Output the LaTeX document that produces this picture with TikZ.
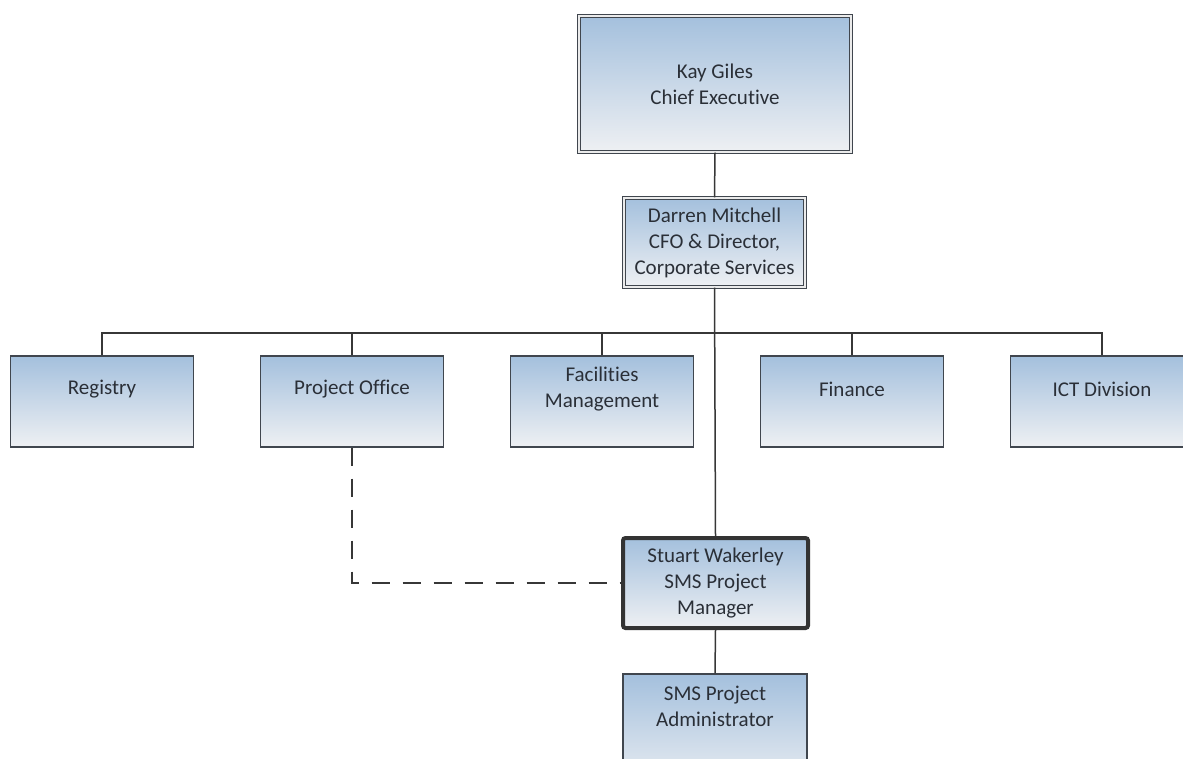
\documentclass[tikz,border=0pt]{standalone}
\usepackage{fontspec}
\setmainfont[Ligatures=NoCommon]{Carlito}
\definecolor{boxtop}{RGB}{164,192,221}
\definecolor{boxbot}{RGB}{238,240,243}
\definecolor{boxline}{RGB}{64,70,78}
\definecolor{conn}{RGB}{55,55,55}
\definecolor{txtc}{RGB}{42,47,55}
\begin{document}
\begin{tikzpicture}[x=1pt,y=-1pt,
  orgbox/.style={draw=boxline, line width=1.4pt, top color=boxtop, bottom color=boxbot, shading angle=0,
    minimum width=183pt, minimum height=91pt, inner sep=0pt},
  dblbox/.style={orgbox, line width=1.3pt, double=white!92!black, double distance=1.8pt},
  mgrbox/.style={orgbox, draw=black!80, line width=4pt, rounded corners=2.5pt},
  lbl/.style={text=txtc, align=center, font=\fontsize{21}{26}\selectfont, inner sep=0pt},
  link/.style={draw=conn, line width=1.5pt},
  dotlink/.style={draw=conn, line width=2pt, dash pattern=on 18pt off 13pt}
]
\useasboundingbox (0,0) rectangle (1183,758);
\clip (0,0) rectangle (1183,758);
\fill[white] (0,0) rectangle (1183,758);

% nodes
\node[dblbox, minimum width=272pt, minimum height=136pt] (ceo) at (715,84) {};
\node[lbl] (ceot) at (ceo.center) {Kay Giles\\Chief Executive};

\node[dblbox, minimum width=181pt, minimum height=89pt] (cfo) at (714.5,242.5) {};
\node[lbl] (cfot) at (cfo.center) {Darren Mitchell\\CFO \& Director,\\Corporate Services};

\node[orgbox] (reg) at (102,401.5) {};
\node[lbl] (regt) at (102,389) {Registry};
\node[orgbox] (po) at (352,401.5) {};
\node[lbl] (pot) at (352,389) {Project Office};
\node[orgbox] (fm) at (602,401.5) {};
\node[lbl] (fmt) at (602,389) {Facilities\\Management};
\node[orgbox] (fin) at (852,401.5) {};
\node[lbl] (fint) at (852,389) {Finance};
\node[orgbox] (ict) at (1102,401.5) {};
\node[lbl] (ictt) at (1102,389) {ICT Division};

\node[mgrbox, minimum width=185pt, minimum height=90pt] (mgr) at (715.5,583) {};
\node[lbl] (mgrt) at (mgr.center) {Stuart Wakerley\\SMS Project\\Manager};

\node[orgbox, minimum width=184pt, minimum height=120pt] (adm) at (715,734) {};
\node[lbl] (admt) at (715,706) {SMS Project\\Administrator};

% connectors
\coordinate (bus) at (715,333);
\draw[link] (ceo.south) -- (cfo.north);
\draw[link] (cfo.south) -- (mgr.north);
\draw[link] (reg.north) -- (reg.north |- bus) -- (ict.north |- bus) -- (ict.north);
\draw[link] (po.north) -- (po.north |- bus);
\draw[link] (fm.north) -- (fm.north |- bus);
\draw[link] (fin.north) -- (fin.north |- bus);
\draw[link] (mgr.south) -- (adm.north);
\draw[dotlink] (po.south) -- (po.south |- mgr.west) -- (mgr.west);
\end{tikzpicture}
\end{document}
